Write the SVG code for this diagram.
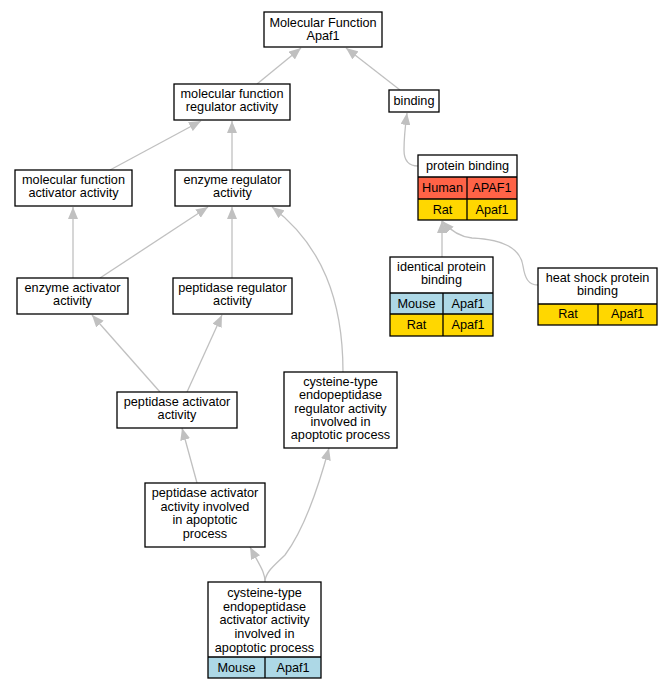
<svg xmlns="http://www.w3.org/2000/svg" width="672" height="691" viewBox="0 0 672 691">
<defs>
<style>
.n{fill:#fff;stroke:#000;stroke-width:1.3}
.c{stroke:#000;stroke-width:1.3}
.t{font-family:"Liberation Sans",Arial,sans-serif;font-size:12.7px;fill:#000;text-anchor:middle}
.e{fill:none;stroke:#c0c0c0;stroke-width:1.3}
.red{fill:#ff6347}
.gold{fill:#ffd700}
.blue{fill:#add8e6}
</style>
<marker id="ah" markerWidth="12" markerHeight="10" refX="12" refY="5" orient="auto" markerUnits="userSpaceOnUse">
<path d="M0,0 L12,5 L0,10 Z" fill="#c0c0c0"/>
</marker>
</defs>
<rect width="672" height="691" fill="#fff"/>
<g id="edges">
<path class="e" marker-end="url(#ah)" d="M257,84 L301,48"/>
<path class="e" marker-end="url(#ah)" d="M400,90 L346,48"/>
<path class="e" marker-end="url(#ah)" d="M110,170 L201,121"/>
<path class="e" marker-end="url(#ah)" d="M232,170 L232,121"/>
<path class="e" marker-end="url(#ah)" d="M418,166 C408,166 404,160 404,150 C404,138 405,128 407,113"/>
<path class="e" marker-end="url(#ah)" d="M73,278 L73,207"/>
<path class="e" marker-end="url(#ah)" d="M100,278 L208,207"/>
<path class="e" marker-end="url(#ah)" d="M232,278 L232,207"/>
<path class="e" marker-end="url(#ah)" d="M343,372 C343,300 322,245 272,207"/>
<path class="e" marker-end="url(#ah)" d="M442,257 L442,221"/>
<path class="e" marker-end="url(#ah)" d="M538,285 C528,285 525,278 523,266 C520,246 500,239 472,238 C460,237 450,230 442,221"/>
<path class="e" marker-end="url(#ah)" d="M160,392 L92,315"/>
<path class="e" marker-end="url(#ah)" d="M187,392 L222,315"/>
<path class="e" marker-end="url(#ah)" d="M197,483 L182,428"/>
<path class="e" marker-end="url(#ah)" d="M265,582 C265,572 260,566 250,547"/>
<path class="e" marker-end="url(#ah)" d="M265,582 C265,572 275,565 285,555 C300,535 315,500 329,448"/>
</g>
<g id="mf">
<rect class="n" x="264" y="12" width="118" height="35"/>
<text class="t" x="323" y="26.5">Molecular Function</text>
<text class="t" x="323" y="40">Apaf1</text>
</g>
<g id="mfra">
<rect class="n" x="174" y="84" width="116" height="36"/>
<text class="t" x="232" y="98">molecular function</text>
<text class="t" x="232" y="111">regulator activity</text>
</g>
<g id="binding">
<rect class="n" x="389" y="90" width="50" height="22"/>
<text class="t" x="414" y="105">binding</text>
</g>
<g id="mfaa">
<rect class="n" x="15" y="170" width="117" height="36"/>
<text class="t" x="73.5" y="184">molecular function</text>
<text class="t" x="73.5" y="197">activator activity</text>
</g>
<g id="era">
<rect class="n" x="175" y="170" width="115" height="36"/>
<text class="t" x="232.5" y="184">enzyme regulator</text>
<text class="t" x="232.5" y="197">activity</text>
</g>
<g id="pb">
<rect x="418" y="155" width="99" height="22" fill="#fff"/>
<rect class="red" x="418" y="177" width="99" height="22"/>
<rect class="gold" x="418" y="199" width="99" height="21"/>
<rect fill="none" class="c" x="418" y="155" width="99" height="65"/>
<path class="c" d="M418,177 H517 M418,199 H517 M467,177 V220"/>
<text class="t" x="467.5" y="170">protein binding</text>
<text class="t" x="442.5" y="192">Human</text>
<text class="t" x="492" y="192">APAF1</text>
<text class="t" x="442.5" y="214">Rat</text>
<text class="t" x="492" y="214">Apaf1</text>
</g>
<g id="eaa">
<rect class="n" x="17" y="278" width="111" height="36"/>
<text class="t" x="72.5" y="292">enzyme activator</text>
<text class="t" x="72.5" y="305">activity</text>
</g>
<g id="pra">
<rect class="n" x="173" y="278" width="119" height="36"/>
<text class="t" x="232.5" y="292">peptidase regulator</text>
<text class="t" x="232.5" y="305">activity</text>
</g>
<g id="ipb">
<rect x="390" y="257" width="103" height="36" fill="#fff"/>
<rect class="blue" x="390" y="293" width="103" height="21"/>
<rect class="gold" x="390" y="314" width="103" height="22"/>
<rect fill="none" class="c" x="390" y="257" width="103" height="79"/>
<path class="c" d="M390,293 H493 M390,314 H493 M443,293 V336"/>
<text class="t" x="441.5" y="271">identical protein</text>
<text class="t" x="441.5" y="284">binding</text>
<text class="t" x="416.5" y="308">Mouse</text>
<text class="t" x="468" y="308">Apaf1</text>
<text class="t" x="416.5" y="329">Rat</text>
<text class="t" x="468" y="329">Apaf1</text>
</g>
<g id="hsp">
<rect x="538" y="268" width="119" height="36" fill="#fff"/>
<rect class="gold" x="538" y="304" width="119" height="21"/>
<rect fill="none" class="c" x="538" y="268" width="119" height="57"/>
<path class="c" d="M538,304 H657 M598,304 V325"/>
<text class="t" x="597.5" y="282">heat shock protein</text>
<text class="t" x="597.5" y="295">binding</text>
<text class="t" x="568" y="318">Rat</text>
<text class="t" x="627.5" y="318">Apaf1</text>
</g>
<g id="paa">
<rect class="n" x="117" y="392" width="120" height="36"/>
<text class="t" x="177" y="406">peptidase activator</text>
<text class="t" x="177" y="419">activity</text>
</g>
<g id="cysreg">
<rect class="n" x="284" y="372" width="113" height="76"/>
<text class="t" x="340.5" y="386">cysteine-type</text>
<text class="t" x="340.5" y="399">endopeptidase</text>
<text class="t" x="340.5" y="413">regulator activity</text>
<text class="t" x="340.5" y="426">involved in</text>
<text class="t" x="340.5" y="439">apoptotic process</text>
</g>
<g id="paaapop">
<rect class="n" x="145" y="483" width="120" height="64"/>
<text class="t" x="205" y="497">peptidase activator</text>
<text class="t" x="205" y="511">activity involved</text>
<text class="t" x="205" y="524">in apoptotic</text>
<text class="t" x="205" y="538">process</text>
</g>
<g id="cysact">
<rect x="208" y="582" width="113" height="75" fill="#fff"/>
<rect class="blue" x="208" y="657" width="113" height="21"/>
<rect fill="none" class="c" x="208" y="582" width="113" height="96"/>
<path class="c" d="M208,657 H321 M265,657 V678"/>
<text class="t" x="264.5" y="597">cysteine-type</text>
<text class="t" x="264.5" y="611">endopeptidase</text>
<text class="t" x="264.5" y="624">activator activity</text>
<text class="t" x="264.5" y="638">involved in</text>
<text class="t" x="264.5" y="652">apoptotic process</text>
<text class="t" x="236.5" y="672">Mouse</text>
<text class="t" x="293" y="672">Apaf1</text>
</g>
</svg>
